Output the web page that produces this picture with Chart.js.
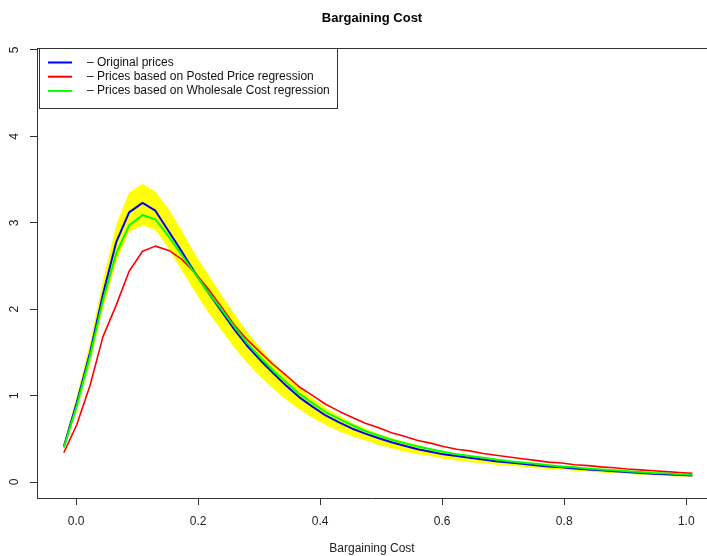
<!DOCTYPE html>
<html>
<head>
<meta charset="utf-8">
<script src="https://cdn.jsdelivr.net/npm/chart.js@4/dist/chart.umd.min.js"></script>
<style>
  html, body { margin: 0; padding: 0; background: #fff; }
  #wrap { width: 707px; height: 556px; position: relative; }
</style>
</head>
<body>
<div id="wrap"><canvas id="chart"></canvas></div>
<script>
/* DATA */
const costs = [-0.020, 0.001, 0.023, 0.044, 0.066, 0.087, 0.109, 0.130, 0.152, 0.173,
  0.195, 0.216, 0.238, 0.259, 0.280, 0.302, 0.323, 0.345, 0.366, 0.388,
  0.409, 0.431, 0.452, 0.474, 0.495, 0.517, 0.538, 0.560, 0.581, 0.602,
  0.624, 0.645, 0.667, 0.688, 0.710, 0.731, 0.753, 0.774, 0.796, 0.817,
  0.839, 0.860, 0.882, 0.903, 0.925, 0.946, 0.967, 0.989, 1.010];

const originalPrices = [0.41, 0.915, 1.50, 2.17, 2.78, 3.12, 3.23, 3.14, 2.90, 2.67,
  2.42, 2.20, 1.98, 1.77, 1.58, 1.41, 1.26, 1.11, 0.98, 0.87,
  0.77, 0.69, 0.62, 0.56, 0.51, 0.46, 0.42, 0.38, 0.35, 0.32,
  0.30, 0.28, 0.26, 0.24, 0.225, 0.21, 0.195, 0.18, 0.17, 0.155,
  0.145, 0.135, 0.125, 0.115, 0.105, 0.095, 0.09, 0.08, 0.075];

const postedPrices = [0.34, 0.66, 1.12, 1.68, 2.05, 2.44, 2.67, 2.73, 2.68, 2.58,
  2.42, 2.24, 2.03, 1.82, 1.65, 1.50, 1.36, 1.23, 1.10, 1.00,
  0.90, 0.82, 0.75, 0.68, 0.63, 0.57, 0.53, 0.48, 0.45, 0.41,
  0.38, 0.36, 0.33, 0.31, 0.29, 0.27, 0.25, 0.23, 0.22, 0.20,
  0.19, 0.175, 0.165, 0.15, 0.14, 0.13, 0.12, 0.11, 0.10];

const wholesalePrices = [0.40, 0.88, 1.46, 2.10, 2.65, 2.97, 3.09, 3.04, 2.84, 2.63,
  2.41, 2.20, 2.00, 1.80, 1.61, 1.44, 1.29, 1.15, 1.02, 0.91,
  0.81, 0.73, 0.66, 0.59, 0.54, 0.49, 0.45, 0.41, 0.38, 0.35,
  0.32, 0.30, 0.28, 0.26, 0.24, 0.225, 0.21, 0.195, 0.18, 0.17,
  0.155, 0.145, 0.135, 0.125, 0.115, 0.105, 0.10, 0.09, 0.085];

const bandUpper = [0.45, 0.99, 1.62, 2.33, 2.98, 3.35, 3.45, 3.36, 3.16, 2.91,
  2.64, 2.41, 2.17, 1.95, 1.74, 1.55, 1.39, 1.23, 1.09, 0.97,
  0.86, 0.77, 0.69, 0.62, 0.56, 0.51, 0.47, 0.43, 0.39, 0.36,
  0.33, 0.31, 0.29, 0.27, 0.25, 0.235, 0.22, 0.205, 0.19, 0.18,
  0.165, 0.155, 0.145, 0.135, 0.125, 0.115, 0.11, 0.10, 0.09];

const bandLower = [0.37, 0.82, 1.38, 2.00, 2.55, 2.90, 2.97, 2.92, 2.70, 2.45,
  2.20, 1.97, 1.76, 1.56, 1.38, 1.22, 1.08, 0.95, 0.84, 0.74,
  0.66, 0.59, 0.53, 0.48, 0.43, 0.39, 0.35, 0.32, 0.30, 0.27,
  0.25, 0.23, 0.22, 0.20, 0.19, 0.175, 0.16, 0.15, 0.14, 0.13,
  0.12, 0.11, 0.10, 0.095, 0.085, 0.08, 0.07, 0.065, 0.06];

const xTicks = [0, 0.2, 0.4, 0.6, 0.8, 1.0];
const yTicks = [0, 1, 2, 3, 4, 5];

const FONT = "'Liberation Sans', Arial, Helvetica, sans-serif";
Chart.defaults.font.family = FONT;

const pts = arr => costs.map((x, i) => ({ x, y: arr[i] }));

/* plot title, top frame line and R-style legend */
const frameAndLegend = {
  id: "frameAndLegend",
  afterDraw(c) {
    const ctx = c.ctx;
    const a = c.chartArea;
    ctx.save();

    ctx.strokeStyle = "#333";
    ctx.lineWidth = 1;
    ctx.beginPath();
    ctx.moveTo(a.left, a.top + 0.5);
    ctx.lineTo(a.right, a.top + 0.5);
    ctx.stroke();

    ctx.fillStyle = "#000";
    ctx.font = "bold 13px " + FONT;
    ctx.textAlign = "center";
    ctx.textBaseline = "middle";
    ctx.fillText("Bargaining Cost", 372, 18);

    // legend
    const items = c.data.datasets.filter(d => d.label);
    ctx.fillStyle = "#fff";
    ctx.fillRect(39, 48, 298, 60);
    ctx.strokeStyle = "#333";
    ctx.strokeRect(39.5, 48.5, 298, 60);
    ctx.font = "12px " + FONT;
    ctx.textAlign = "left";
    items.forEach((d, i) => {
      const y = 62.5 + i * 14.2;
      ctx.strokeStyle = d.borderColor;
      ctx.lineWidth = 2;
      ctx.beginPath();
      ctx.moveTo(48, y);
      ctx.lineTo(72, y);
      ctx.stroke();
      ctx.fillStyle = "#111";
      ctx.fillText(d.label, 87, y);
    });
    ctx.restore();
  }
};

const axisStyle = {
  grid: { drawOnChartArea: false, drawTicks: true, tickLength: 7, color: "#333" },
  border: { display: true, color: "#333", width: 1 }
};

new Chart(document.getElementById("chart"), {
  type: "line",
  data: {
    datasets: [
      {
        label: "– Original prices",
        data: pts(originalPrices),
        borderColor: "#0000ff",
        borderWidth: 2,
        order: 3
      },
      {
        label: "– Prices based on Posted Price regression",
        data: pts(postedPrices),
        borderColor: "#ff0000",
        borderWidth: 1.6,
        order: 2
      },
      {
        label: "– Prices based on Wholesale Cost regression",
        data: pts(wholesalePrices),
        borderColor: "#00ff00",
        borderWidth: 2,
        order: 1
      },
      {
        label: "",
        data: pts(bandUpper),
        borderWidth: 0,
        borderColor: "rgba(0,0,0,0)",
        backgroundColor: "#ffff00",
        fill: "+1",
        order: 10
      },
      {
        label: "",
        data: pts(bandLower),
        borderWidth: 0,
        borderColor: "rgba(0,0,0,0)",
        fill: false,
        order: 11
      }
    ]
  },
  options: {
    responsive: true,
    maintainAspectRatio: false,
    animation: false,
    devicePixelRatio: 1,
    layout: { padding: { top: 48, right: 0, bottom: 0, left: 0 } },
    elements: {
      point: { radius: 0 },
      line: { tension: 0, borderJoinStyle: "round" }
    },
    plugins: {
      legend: { display: false },
      title: { display: false },
      tooltip: { enabled: false }
    },
    scales: {
      x: {
        type: "linear",
        min: -0.064,
        max: 1.034,
        afterBuildTicks: s => { s.ticks = xTicks.map(v => ({ value: v })); },
        afterFit: s => { s.height = 58; },
        ticks: {
          callback: v => v.toFixed(1),
          padding: 9,
          color: "#222",
          font: { size: 12 },
          autoSkip: false,
          maxRotation: 0
        },
        title: {
          display: true,
          text: "Bargaining Cost",
          color: "#222",
          font: { size: 12 },
          padding: { top: 0, bottom: 0 }
        },
        ...axisStyle
      },
      y: {
        type: "linear",
        min: -0.185,
        max: 5.023,
        afterBuildTicks: s => { s.ticks = yTicks.map(v => ({ value: v })); },
        afterFit: s => { s.width = 37; },
        ticks: {
          callback: v => String(v),
          minRotation: 90,
          maxRotation: 90,
          crossAlign: "center",
          padding: 12,
          color: "#222",
          font: { size: 12 }
        },
        ...axisStyle
      }
    }
  },
  plugins: [frameAndLegend]
});
</script>
</body>
</html>
